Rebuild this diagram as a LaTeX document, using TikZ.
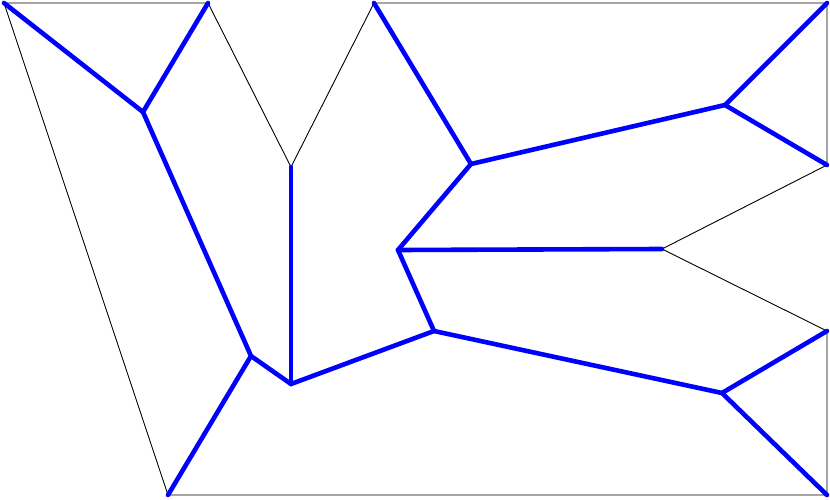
\documentclass[tikz,border=0pt]{standalone}
\begin{document}
\begin{tikzpicture}[x=1pt,y=-1pt,
  poly/.style={black,line width=0.9pt,line join=round},
  skel/.style={blue,line width=4.6pt,line cap=round,line join=round}]
\useasboundingbox (0,0) rectangle (830,500);
% polygon vertices
\coordinate (p1) at (4,3);
\coordinate (p2) at (208,3);
\coordinate (p3) at (291,167);
\coordinate (p4) at (374,3);
\coordinate (p5) at (827,3);
\coordinate (p6) at (827,165);
\coordinate (p7) at (662,249);
\coordinate (p8) at (827,331);
\coordinate (p9) at (827,495);
\coordinate (p10) at (168,495);
% skeleton junctions
\coordinate (a) at (143,112);
\coordinate (b) at (251,356);
\coordinate (c) at (291,384);
\coordinate (d) at (434,331);
\coordinate (e) at (398,250);
\coordinate (f) at (471,164);
\coordinate (g) at (725,105);
\coordinate (h) at (722,393);
\draw[poly] (p1) -- (p2) -- (p3) -- (p4) -- (p5) -- (p6) -- (p7) -- (p8) -- (p9) -- (p10) -- cycle;
\draw[skel] (p1) -- (a);
\draw[skel] (p2) -- (a);
\draw[skel] (a) -- (b);
\draw[skel] (b) -- (p10);
\draw[skel] (b) -- (c);
\draw[skel] (p3) -- (c);
\draw[skel] (c) -- (d);
\draw[skel] (d) -- (e);
\draw[skel] (e) -- (p7);
\draw[skel] (e) -- (f);
\draw[skel] (f) -- (p4);
\draw[skel] (f) -- (g);
\draw[skel] (g) -- (p5);
\draw[skel] (g) -- (p6);
\draw[skel] (d) -- (h);
\draw[skel] (h) -- (p8);
\draw[skel] (h) -- (p9);
\end{tikzpicture}
\end{document}
